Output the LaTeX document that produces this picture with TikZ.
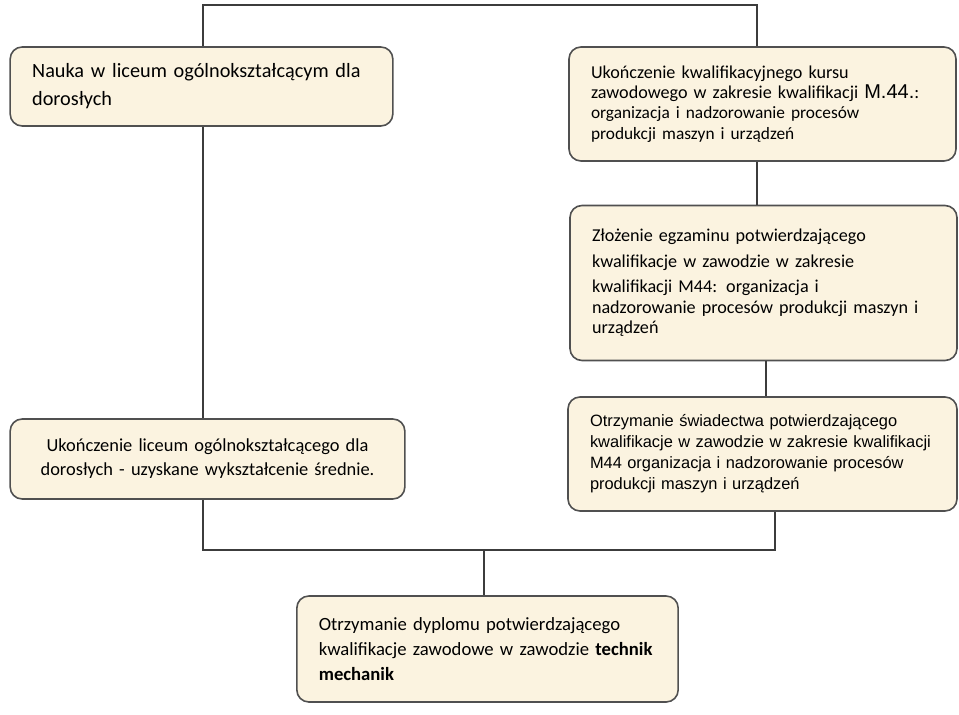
\documentclass[tikz,border=0pt]{standalone}
\usepackage{fontspec}
\setmainfont{Carlito}
\newfontfamily\arialfont{Liberation Sans}
\usepackage{tikz}
\usetikzlibrary{calc}
\definecolor{parchment}{RGB}{251,243,224}
\definecolor{rim}{RGB}{80,80,80}
\definecolor{wire}{RGB}{60,60,60}

\begin{document}
\begin{tikzpicture}[
    x=0.75pt,y=0.75pt,
    card/.style={draw=rim,fill=parchment,line width=1.2pt,rounded corners=9pt,
        inner xsep=16.5pt,inner ysep=4pt,align=left},
    link/.style={draw=wire,line width=1.2pt}
]
\useasboundingbox (0,0) rectangle (959,714);
% Left column.
\node[card,text width=254pt,minimum height=59.25pt,font=\fontsize{15.2}{21}\selectfont]
    (nauka) at (201.5,627.5) {Nauka w liceum ogólnokształcącym dla\\dorosłych};
\node[card,text width=263pt,minimum height=60pt,align=center,font=\fontsize{13.8}{18}\selectfont]
    (liceum) at (207.5,255) {Ukończenie liceum ogólnokształcącego dla\\dorosłych - uzyskane wykształcenie średnie.};
% Right column.
\node[card,text width=257.25pt,minimum height=85.5pt,font=\fontsize{13.6}{15.2}\selectfont]
    (kurs) at (762.5,610) {Ukończenie kwalifikacyjnego kursu\\
    zawodowego w zakresie kwalifikacji {\fontsize{15}{15.2}\selectfont\arialfont M.44.}:\\
    {\fontsize{13}{15.2}\selectfont organizacja i nadzorowanie procesów}\\
    {\fontsize{13}{15.2}\selectfont produkcji maszyn i urządzeń}};
\node[card,text width=257.25pt,minimum height=116.25pt,font=\fontsize{13.6}{15.5}\selectfont]
    (egzamin) at (763.5,431) {Złożenie egzaminu potwierdzającego\\[4pt]
    kwalifikacje w zawodzie w zakresie\\[3pt]
    kwalifikacji M44: organizacja i\\
    nadzorowanie procesów produkcji maszyn i\\urządzeń};
\node[card,text width=258.75pt,minimum height=85.5pt,font=\arialfont\fontsize{12.3}{15.75}\selectfont]
    (swiadectwo) at (762.5,260) {Otrzymanie świadectwa potwierdzającego\\
    \mbox{kwalifikacje w zawodzie w zakresie kwalifikacji}\\
    M44 organizacja i nadzorowanie procesów\\produkcji maszyn i urządzeń};
% Final diploma.
\node[card,text width=253pt,minimum height=79.5pt,font=\fontsize{14}{18.75}\selectfont]
    (dyplom) at (487.5,65) {Otrzymanie dyplomu potwierdzającego\\
    kwalifikacje zawodowe w zawodzie \textbf{technik}\\\textbf{mechanik}};
% Connectors.
\coordinate (lefttop) at (203,709);
\coordinate (righttop) at (757,709);
\coordinate (rightmid) at (766,0);
\coordinate (rightlow) at (775,164);
\coordinate (leftlow) at (203,164);
\coordinate (joint) at (484,164);
\draw[link] (nauka.north -| lefttop) -- (lefttop) -- (righttop) -- (kurs.north -| righttop);
\draw[link] (nauka.south -| lefttop) -- (liceum.north -| lefttop);
\draw[link] (kurs.south -| righttop) -- (egzamin.north -| righttop);
\draw[link] (egzamin.south -| rightmid) -- (swiadectwo.north -| rightmid);
\draw[link] (swiadectwo.south -| rightlow) -- (rightlow) -- (leftlow) -- (liceum.south -| leftlow);
\draw[link] (joint) -- (dyplom.north -| joint);
\end{tikzpicture}
\end{document}
